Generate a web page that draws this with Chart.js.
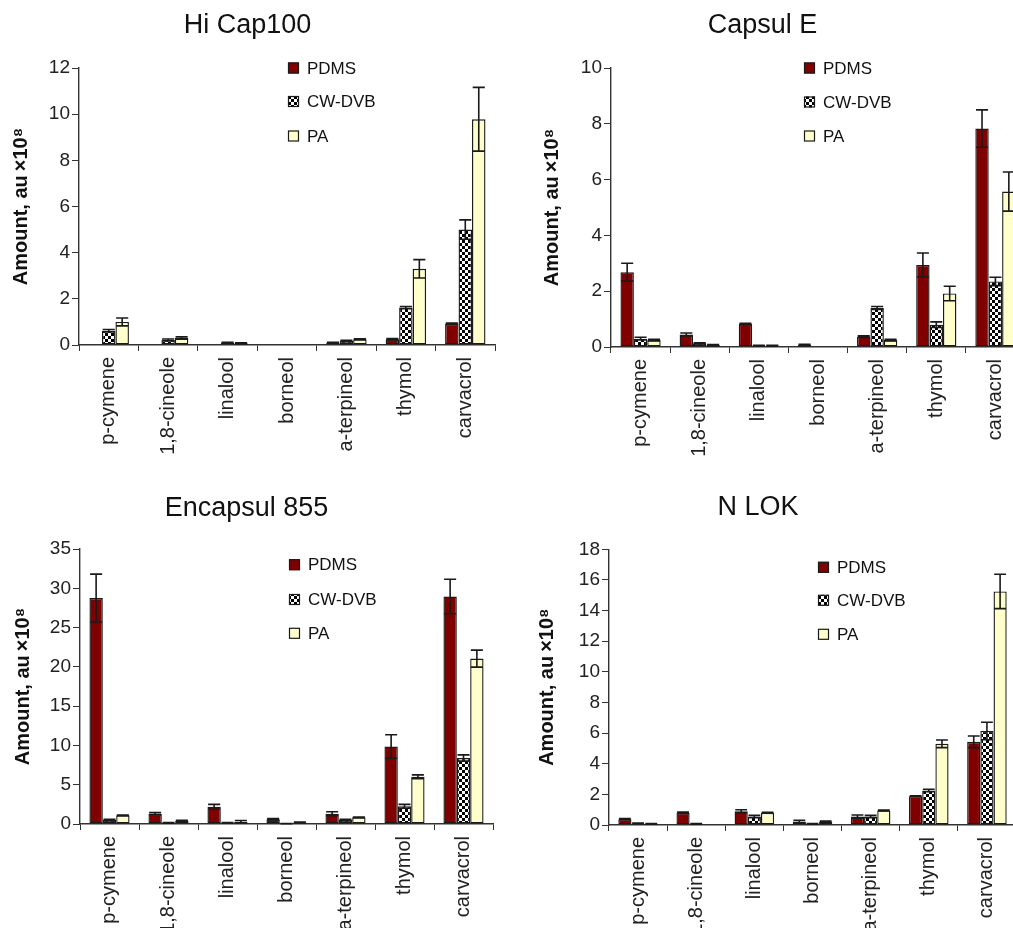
<!DOCTYPE html>
<html>
<head>
<meta charset="utf-8">
<script src="https://cdn.jsdelivr.net/npm/chart.js@4.4.1/dist/chart.umd.min.js"></script>
<style>
  html, body { margin: 0; padding: 0; background: #fff; }
  body { width: 1013px; height: 928px; position: relative; overflow: hidden; }
  canvas { position: absolute; }
</style>
</head>
<body>
<canvas id="hicap" width="496" height="460" style="left:0;top:0"></canvas>
<canvas id="capsul" width="546" height="460" style="left:500px;top:0"></canvas>
<canvas id="encapsul" width="494" height="458" style="left:0;top:470px"></canvas>
<canvas id="nlok" width="548" height="458" style="left:500px;top:470px"></canvas>
<script>
// ── Data ─────────────────────────────────────────────────────
const compounds = ['p-cymene', '1,8-cineole', 'linalool', 'borneol', 'a-terpineol', 'thymol', 'carvacrol'];
const fibres = ['PDMS', 'CW-DVB', 'PA'];

// Hi Cap100
const hiCapPdms = [0.02, 0.02, 0.02, 0.02, 0.1, 0.25, 0.92];
const hiCapCw = [0.62, 0.22, 0.1, 0, 0.17, 1.62, 5.0];
const hiCapPa = [1.0, 0.3, 0.08, 0, 0.25, 3.3, 9.78];
const hiCapPdmsErr = [0, 0, 0, 0, 0.02, 0.03, 0.03];
const hiCapCwErr = [0.05, 0.04, 0.02, 0, 0.03, 0.05, 0.42];
const hiCapPaErr = [0.17, 0.05, 0.02, 0, 0.02, 0.4, 1.38];

// Capsul E
const capPdms = [2.68, 0.45, 0.82, 0.08, 0.37, 2.94, 7.83];
const capCw = [0.3, 0.13, 0.05, 0, 1.4, 0.8, 2.35];
const capPa = [0.25, 0.07, 0.05, 0, 0.25, 1.92, 5.57];
const capPdmsErr = [0.32, 0.05, 0.03, 0.02, 0.03, 0.43, 0.67];
const capCwErr = [0.05, 0.02, 0.01, 0, 0.05, 0.1, 0.15];
const capPaErr = [0.03, 0.02, 0.01, 0, 0.03, 0.26, 0.7];

// Encapsul 855
const encPdms = [28.75, 1.3, 2.2, 0.6, 1.3, 9.85, 28.95];
const encCw = [0.5, 0.15, 0.15, 0.05, 0.5, 2.25, 8.4];
const encPa = [1.1, 0.42, 0.3, 0.2, 0.85, 6.0, 21.05];
const encPdmsErr = [3.05, 0.15, 0.3, 0.1, 0.25, 1.5, 2.2];
const encCwErr = [0.1, 0.05, 0.03, 0.02, 0.1, 0.25, 0.4];
const encPaErr = [0.05, 0.05, 0.15, 0.05, 0.05, 0.25, 1.08];

// N LOK
const nlokPdms = [0.38, 0.8, 0.9, 0.22, 0.55, 1.88, 5.43];
const nlokCw = [0.1, 0.08, 0.55, 0.08, 0.55, 2.25, 6.14];
const nlokPa = [0.08, 0, 0.8, 0.22, 0.95, 5.3, 15.25];
const nlokPdmsErr = [0.04, 0.05, 0.1, 0.08, 0.1, 0.02, 0.38];
const nlokCwErr = [0.02, 0.02, 0.08, 0.02, 0.08, 0.08, 0.57];
const nlokPaErr = [0.02, 0, 0.03, 0.03, 0.03, 0.25, 1.12];

// ── Styles ───────────────────────────────────────────────────
const FONT = "'Liberation Sans', Arial, sans-serif";
const INK = '#1a1a1a';
const PDMS_COLOR = '#800000';
const PA_COLOR = '#ffffcc';

function checker() {
    const c = document.createElement('canvas');
    c.width = 6; c.height = 6;
    const g = c.getContext('2d');
    g.fillStyle = '#fff';
    g.fillRect(0, 0, 6, 6);
    g.fillStyle = '#000';
    g.fillRect(0, 0, 3, 3);
    g.fillRect(3, 3, 3, 3);
    return g.createPattern(c, 'repeat');
}
const CW_PATTERN = checker();

// ── Plugins ──────────────────────────────────────────────────
const errorBars = {
    id: 'errorBars',
    afterDatasetsDraw(chart) {
        const ctx = chart.ctx;
        const y = chart.scales.y;
        ctx.save();
        ctx.strokeStyle = INK;
        ctx.lineWidth = 1.6;
        chart.data.datasets.forEach((ds, i) => {
            const meta = chart.getDatasetMeta(i);
            meta.data.forEach((bar, j) => {
                const e = ds.errors[j];
                if (!e) return;
                const v = ds.data[j];
                const top = y.getPixelForValue(v + e);
                const bot = y.getPixelForValue(Math.max(0, v - e));
                const half = bar.width * 0.45;
                ctx.beginPath();
                ctx.moveTo(bar.x, top); ctx.lineTo(bar.x, bot);
                ctx.moveTo(bar.x - half, top); ctx.lineTo(bar.x + half, top);
                ctx.moveTo(bar.x - half, bot); ctx.lineTo(bar.x + half, bot);
                ctx.stroke();
            });
        });
        ctx.restore();
    },
};

const fibreLegend = {
    id: 'fibreLegend',
    afterDraw(chart, args, opts) {
        const ctx = chart.ctx;
        const a = chart.chartArea;
        ctx.save();
        ctx.font = `17px ${FONT}`;
        ctx.textBaseline = 'middle';
        chart.data.datasets.forEach((ds, i) => {
            const x = a.left + opts.x;
            const cy = a.top + opts.rows[i];
            ctx.fillStyle = ds.backgroundColor;
            ctx.fillRect(x, cy - 5.5, 11, 11);
            ctx.strokeStyle = INK;
            ctx.lineWidth = 1.2;
            ctx.strokeRect(x + 0.5, cy - 5, 10, 10);
            ctx.fillStyle = '#111';
            ctx.fillText(ds.label, x + 19, cy + 1);
        });
        ctx.restore();
    },
};

// ── Chart builder ────────────────────────────────────────────
function makeChart(id, cfg) {
    const sets = [
        [cfg.pdms, cfg.pdmsErr, PDMS_COLOR],
        [cfg.cw, cfg.cwErr, CW_PATTERN],
        [cfg.pa, cfg.paErr, PA_COLOR],
    ];
    return new Chart(document.getElementById(id), {
        type: 'bar',
        data: {
            labels: compounds,
            datasets: sets.map(([data, errors, bg], i) => ({
                label: fibres[i],
                data,
                errors,
                backgroundColor: bg,
                borderColor: INK,
                borderWidth: 1.4,
                borderSkipped: false,
                categoryPercentage: 0.68,
                barPercentage: 1,
            })),
        },
        options: {
            responsive: false,
            animation: false,
            events: [],
            layout: { padding: { left: 0, right: cfg.padRight, top: 0, bottom: 0 } },
            scales: {
                x: {
                    afterFit: s => { s.height = cfg.xHeight; },
                    grid: { drawOnChartArea: false, tickLength: 6, color: '#333', offset: true },
                    border: { display: true, color: '#333', width: 1.4 },
                    ticks: {
                        color: '#222', font: { family: FONT, size: 20 },
                        minRotation: 90, maxRotation: 90, padding: 6, autoSkip: false,
                    },
                },
                y: {
                    min: 0,
                    max: cfg.max,
                    afterFit: s => { s.width = cfg.yWidth; },
                    grid: { drawOnChartArea: false, tickLength: 7, color: '#333' },
                    border: { display: true, color: '#333', width: 1.4 },
                    ticks: { stepSize: cfg.step, color: '#222', font: { family: FONT, size: 19 }, padding: 2 },
                    title: {
                        display: true,
                        text: 'Amount, au\u2009\u00d710\u2078',
                        color: '#111',
                        font: { family: FONT, size: 20, weight: 'bold' },
                        padding: { top: cfg.yTitlePad, bottom: 0 },
                    },
                },
            },
            plugins: {
                legend: { display: false },
                tooltip: { enabled: false },
                title: {
                    display: true,
                    text: cfg.title,
                    color: '#111',
                    font: { family: FONT, size: 27, weight: 'normal' },
                    padding: { top: cfg.titleTop, bottom: cfg.titleBottom },
                },
                fibreLegend: { x: cfg.legendX, rows: cfg.legendRows },
            },
        },
        plugins: [errorBars, fibreLegend],
    });
}

// ── Panels ───────────────────────────────────────────────────
makeChart('hicap', {
    title: 'Hi Cap100', max: 12, step: 2,
    pdms: hiCapPdms, cw: hiCapCw, pa: hiCapPa,
    pdmsErr: hiCapPdmsErr, cwErr: hiCapCwErr, paErr: hiCapPaErr,
    yWidth: 79, padRight: 1, xHeight: 115, yTitlePad: 9,
    titleTop: 9, titleBottom: 26.6,
    legendX: 209, legendRows: [0, 33.5, 68],
});

makeChart('capsul', {
    title: 'Capsul E', max: 10, step: 2,
    pdms: capPdms, cw: capCw, pa: capPa,
    pdmsErr: capPdmsErr, cwErr: capCwErr, paErr: capPaErr,
    yWidth: 111, padRight: 21, xHeight: 113, yTitlePad: 40,
    titleTop: 9, titleBottom: 26.6,
    legendX: 193, legendRows: [0, 34, 68],
});

makeChart('encapsul', {
    title: 'Encapsul 855', max: 35, step: 5,
    pdms: encPdms, cw: encCw, pa: encPa,
    pdmsErr: encPdmsErr, cwErr: encCwErr, paErr: encPaErr,
    yWidth: 80, padRight: 1, xHeight: 104, yTitlePad: 11,
    titleTop: 22, titleBottom: 24.6,
    legendX: 209, legendRows: [15.7, 50.5, 84.3],
});

makeChart('nlok', {
    title: 'N LOK', max: 18, step: 2,
    pdms: nlokPdms, cw: nlokCw, pa: nlokPa,
    pdmsErr: nlokPdmsErr, cwErr: nlokCwErr, paErr: nlokPaErr,
    yWidth: 109, padRight: 32, xHeight: 103, yTitlePad: 35,
    titleTop: 21.5, titleBottom: 25.4,
    legendX: 209, legendRows: [18, 51, 85],
});
</script>
</body>
</html>
